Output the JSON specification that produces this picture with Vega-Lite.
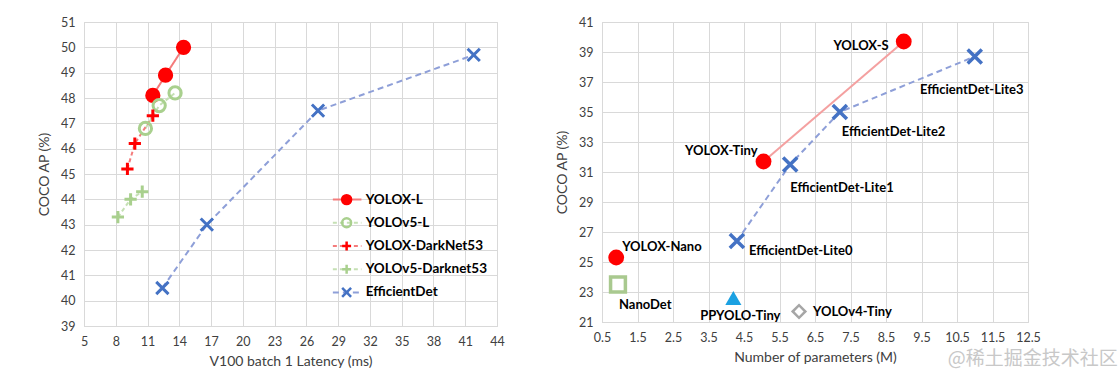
{
  "$schema": "https://vega.github.io/schema/vega-lite/v6.json",
  "background": "white",
  "padding": {"left": 37, "top": 15, "right": 5, "bottom": 5},
  "config": {
    "font": "Lato",
    "view": {"stroke": "#d9d9d9"},
    "axis": {"labelFont": "Lato", "labelFontSize": 12.5, "labelColor": "#404040", "titleFont": "Lato", "titleFontSize": 14, "titleFontWeight": "normal", "titleColor": "#404040", "domainColor": "#d9d9d9", "gridColor": "#d9d9d9", "ticks": false, "labelPadding": 9, "titlePadding": 7, "labelOverlap": false, "labelFlush": false},
    "axisY": {"titlePadding": 9}
  },
  "title": {"text": "@稀土掘金技术社区", "orient": "bottom", "anchor": "end", "fontSize": 19, "font": "Noto Sans CJK SC", "fontWeight": "normal", "color": "#c8c8c8", "offset": -19, "dx": 77},
  "spacing": 50,
  "hconcat": [
    {
      "width": 413,
      "height": 304,
      "resolve": {"scale": {"y": "independent"}},
      "layer": [
        {
          "data": {"values": [
            {"model": "YOLOX-L", "latency": 11.5, "ap": 48.1},
            {"model": "YOLOX-L", "latency": 12.7, "ap": 48.9},
            {"model": "YOLOX-L", "latency": 14.4, "ap": 50.0},
            {"model": "YOLOv5-L", "latency": 10.8, "ap": 46.8},
            {"model": "YOLOv5-L", "latency": 12.1, "ap": 47.7},
            {"model": "YOLOv5-L", "latency": 13.6, "ap": 48.2},
            {"model": "YOLOX-DarkNet53", "latency": 9.1, "ap": 45.2},
            {"model": "YOLOX-DarkNet53", "latency": 9.8, "ap": 46.2},
            {"model": "YOLOX-DarkNet53", "latency": 11.5, "ap": 47.3},
            {"model": "YOLOv5-Darknet53", "latency": 8.2, "ap": 43.3},
            {"model": "YOLOv5-Darknet53", "latency": 9.4, "ap": 44.0},
            {"model": "YOLOv5-Darknet53", "latency": 10.5, "ap": 44.3},
            {"model": "EfficientDet", "latency": 12.4, "ap": 40.5},
            {"model": "EfficientDet", "latency": 16.6, "ap": 43.0},
            {"model": "EfficientDet", "latency": 27.1, "ap": 47.5},
            {"model": "EfficientDet", "latency": 41.8, "ap": 49.7}
          ]},
          "encoding": {
            "x": {"field": "latency", "type": "quantitative", "scale": {"domain": [5, 44], "nice": false, "zero": false}, "axis": {"values": [5, 8, 11, 14, 17, 20, 23, 26, 29, 32, 35, 38, 41, 44], "title": "V100 batch 1 Latency (ms)", "grid": true}},
            "y": {"field": "ap", "type": "quantitative", "scale": {"domain": [39, 51], "nice": false, "zero": false}, "axis": {"values": [39, 40, 41, 42, 43, 44, 45, 46, 47, 48, 49, 50, 51], "title": "COCO AP (%)", "grid": true}}
          },
          "layer": [
            {
              "mark": {"type": "line", "strokeWidth": 2},
              "encoding": {
                "color": {"field": "model", "type": "nominal", "scale": {"domain": ["YOLOX-L", "YOLOv5-L", "YOLOX-DarkNet53", "YOLOv5-Darknet53", "EfficientDet"], "range": ["#f47c7c", "#c5e0b4", "#f47c7c", "#c5e0b4", "#8e9fd8"]}, "legend": null},
                "strokeDash": {"field": "model", "type": "nominal", "scale": {"domain": ["YOLOX-L", "YOLOv5-L", "YOLOX-DarkNet53", "YOLOv5-Darknet53", "EfficientDet"], "range": [[1, 0], [4, 3], [4, 3], [4, 3], [6, 4]]}, "legend": null}
              }
            },
            {
              "mark": {"type": "point", "strokeWidth": 3, "opacity": 1, "size": 150},
              "encoding": {
                "shape": {"field": "model", "type": "nominal", "scale": {"domain": ["YOLOX-L", "YOLOv5-L", "YOLOX-DarkNet53", "YOLOv5-Darknet53", "EfficientDet"], "range": ["circle", "circle", "M-1,0H1M0,-1V1", "M-1,0H1M0,-1V1", "M-1,-1L1,1M-1,1L1,-1"]}, "legend": null},
                "fill": {"field": "model", "type": "nominal", "scale": {"domain": ["YOLOX-L", "YOLOv5-L", "YOLOX-DarkNet53", "YOLOv5-Darknet53", "EfficientDet"], "range": ["#ff0000", "transparent", "transparent", "transparent", "transparent"]}, "legend": null},
                "stroke": {"field": "model", "type": "nominal", "scale": {"domain": ["YOLOX-L", "YOLOv5-L", "YOLOX-DarkNet53", "YOLOv5-Darknet53", "EfficientDet"], "range": ["#ff0000", "#a9d08e", "#ff0000", "#a9d08e", "#4472c4"]}, "legend": null}
              }
            }
          ]
        },
        {
          "data": {"values": [
            {"model": "YOLOX-L"},
            {"model": "YOLOv5-L"},
            {"model": "YOLOX-DarkNet53"},
            {"model": "YOLOv5-Darknet53"},
            {"model": "EfficientDet"}
          ]},
          "encoding": {
            "y": {"field": "model", "type": "nominal", "scale": {"domain": ["YOLOX-L", "YOLOv5-L", "YOLOX-DarkNet53", "YOLOv5-Darknet53", "EfficientDet"], "range": [166, 282], "padding": 0}, "axis": null}
          },
          "layer": [
            {
              "mark": {"type": "rule", "strokeWidth": 2},
              "encoding": {
                "x": {"datum": 28.5, "type": "quantitative", "scale": {"domain": [5, 44], "nice": false, "zero": false}, "axis": {"values": [5, 8, 11, 14, 17, 20, 23, 26, 29, 32, 35, 38, 41, 44], "title": "V100 batch 1 Latency (ms)", "grid": true}},
                "x2": {"datum": 31.2},
                "color": {"field": "model", "type": "nominal", "legend": null},
                "strokeDash": {"field": "model", "type": "nominal", "legend": null}
              }
            },
            {
              "mark": {"type": "point", "strokeWidth": 2.5, "opacity": 1, "size": 80},
              "encoding": {
                "x": {"datum": 29.8, "type": "quantitative", "scale": {"domain": [5, 44], "nice": false, "zero": false}, "axis": {"values": [5, 8, 11, 14, 17, 20, 23, 26, 29, 32, 35, 38, 41, 44], "title": "V100 batch 1 Latency (ms)", "grid": true}},
                "shape": {"field": "model", "type": "nominal", "legend": null},
                "fill": {"field": "model", "type": "nominal", "legend": null},
                "stroke": {"field": "model", "type": "nominal", "legend": null}
              }
            },
            {
              "mark": {"type": "text", "align": "left", "baseline": "middle", "font": "Lato", "fontWeight": "bold", "fontSize": 13.5, "color": "black"},
              "encoding": {
                "x": {"datum": 31.6, "type": "quantitative", "scale": {"domain": [5, 44], "nice": false, "zero": false}, "axis": {"values": [5, 8, 11, 14, 17, 20, 23, 26, 29, 32, 35, 38, 41, 44], "title": "V100 batch 1 Latency (ms)", "grid": true}},
                "text": {"field": "model"}
              }
            }
          ]
        }
      ]
    },
    {
      "width": 426,
      "height": 300,
      "data": {"values": [
        {"name": "YOLOX-Nano", "family": "YOLOX", "params": 0.9, "ap": 25.3},
        {"name": "YOLOX-Tiny", "family": "YOLOX", "params": 5.05, "ap": 31.7},
        {"name": "YOLOX-S", "family": "YOLOX", "params": 9.0, "ap": 39.7},
        {"name": "NanoDet", "family": "NanoDet", "params": 0.95, "ap": 23.5},
        {"name": "PPYOLO-Tiny", "family": "PPYOLO", "params": 4.2, "ap": 22.6},
        {"name": "YOLOv4-Tiny", "family": "YOLOv4", "params": 6.05, "ap": 21.7},
        {"name": "EfficientDet-Lite0", "family": "EfficientDet", "params": 4.3, "ap": 26.4},
        {"name": "EfficientDet-Lite1", "family": "EfficientDet", "params": 5.8, "ap": 31.5},
        {"name": "EfficientDet-Lite2", "family": "EfficientDet", "params": 7.2, "ap": 35.0},
        {"name": "EfficientDet-Lite3", "family": "EfficientDet", "params": 11.0, "ap": 38.7}
      ]},
      "encoding": {
        "x": {"field": "params", "type": "quantitative", "scale": {"domain": [0.5, 12.5], "nice": false, "zero": false}, "axis": {"values": [0.5, 1.5, 2.5, 3.5, 4.5, 5.5, 6.5, 7.5, 8.5, 9.5, 10.5, 11.5, 12.5], "format": ".1f", "title": "Number of parameters (M)", "grid": true}},
        "y": {"field": "ap", "type": "quantitative", "scale": {"domain": [21, 41], "nice": false, "zero": false}, "axis": {"values": [21, 23, 25, 27, 29, 31, 33, 35, 37, 39, 41], "title": "COCO AP (%)", "grid": true}}
      },
      "layer": [
        {"transform": [{"filter": "datum.family == 'YOLOX' && datum.name != 'YOLOX-Nano'"}], "mark": {"type": "line", "color": "#f4a0a0", "strokeWidth": 2}, "encoding": {}},
        {"transform": [{"filter": "datum.family == 'EfficientDet'"}], "mark": {"type": "line", "color": "#8e9fd8", "strokeWidth": 2, "strokeDash": [6, 4]}, "encoding": {}},
        {"transform": [{"filter": "datum.family == 'YOLOX'"}], "mark": {"type": "point", "shape": "circle", "filled": true, "color": "#ff0000", "opacity": 1, "size": 250}},
        {"transform": [{"filter": "datum.family == 'NanoDet'"}], "mark": {"type": "point", "shape": "square", "filled": false, "color": "#a9c98f", "strokeWidth": 3.5, "opacity": 1, "size": 220}},
        {"transform": [{"filter": "datum.family == 'PPYOLO'"}], "mark": {"type": "point", "shape": "triangle-up", "filled": true, "color": "#1ba1e2", "opacity": 1, "size": 260}},
        {"transform": [{"filter": "datum.family == 'YOLOv4'"}], "mark": {"type": "point", "shape": "diamond", "filled": false, "color": "#a6a6a6", "strokeWidth": 2.5, "opacity": 1, "size": 160}},
        {"transform": [{"filter": "datum.family == 'EfficientDet'"}], "mark": {"type": "point", "shape": "M-1,-1L1,1M-1,1L1,-1", "filled": false, "color": "#4472c4", "strokeWidth": 3.5, "opacity": 1, "size": 200}},
        {"transform": [{"filter": "datum.name == 'YOLOX-S'"}], "mark": {"type": "text", "font": "Lato", "fontWeight": "bold", "fontSize": 13, "color": "black", "align": "right", "baseline": "middle", "dx": -15, "dy": 4}, "encoding": {"text": {"field": "name"}}},
        {"transform": [{"filter": "datum.name == 'YOLOX-Tiny'"}], "mark": {"type": "text", "font": "Lato", "fontWeight": "bold", "fontSize": 13, "color": "black", "align": "right", "baseline": "middle", "dx": -6, "dy": -11}, "encoding": {"text": {"field": "name"}}},
        {"transform": [{"filter": "datum.name == 'YOLOX-Nano'"}], "mark": {"type": "text", "font": "Lato", "fontWeight": "bold", "fontSize": 13, "color": "black", "align": "left", "baseline": "middle", "dx": 6, "dy": -11}, "encoding": {"text": {"field": "name"}}},
        {"transform": [{"filter": "datum.name == 'NanoDet'"}], "mark": {"type": "text", "font": "Lato", "fontWeight": "bold", "fontSize": 13, "color": "black", "align": "left", "baseline": "middle", "dx": 1, "dy": 20}, "encoding": {"text": {"field": "name"}}},
        {"transform": [{"filter": "datum.name == 'PPYOLO-Tiny'"}], "mark": {"type": "text", "font": "Lato", "fontWeight": "bold", "fontSize": 13, "color": "black", "align": "center", "baseline": "middle", "dx": 7, "dy": 18}, "encoding": {"text": {"field": "name"}}},
        {"transform": [{"filter": "datum.name == 'YOLOv4-Tiny'"}], "mark": {"type": "text", "font": "Lato", "fontWeight": "bold", "fontSize": 13, "color": "black", "align": "left", "baseline": "middle", "dx": 14, "dy": 0}, "encoding": {"text": {"field": "name"}}},
        {"transform": [{"filter": "datum.name == 'EfficientDet-Lite0'"}], "mark": {"type": "text", "font": "Lato", "fontWeight": "bold", "fontSize": 13, "color": "black", "align": "left", "baseline": "middle", "dx": 12, "dy": 10}, "encoding": {"text": {"field": "name"}}},
        {"transform": [{"filter": "datum.name == 'EfficientDet-Lite1'"}], "mark": {"type": "text", "font": "Lato", "fontWeight": "bold", "fontSize": 13, "color": "black", "align": "left", "baseline": "middle", "dx": 0, "dy": 23}, "encoding": {"text": {"field": "name"}}},
        {"transform": [{"filter": "datum.name == 'EfficientDet-Lite2'"}], "mark": {"type": "text", "font": "Lato", "fontWeight": "bold", "fontSize": 13, "color": "black", "align": "left", "baseline": "middle", "dx": 2, "dy": 20}, "encoding": {"text": {"field": "name"}}},
        {"transform": [{"filter": "datum.name == 'EfficientDet-Lite3'"}], "mark": {"type": "text", "font": "Lato", "fontWeight": "bold", "fontSize": 13, "color": "black", "align": "center", "baseline": "middle", "dx": -3, "dy": 33}, "encoding": {"text": {"field": "name"}}}
      ]
    }
  ]
}
